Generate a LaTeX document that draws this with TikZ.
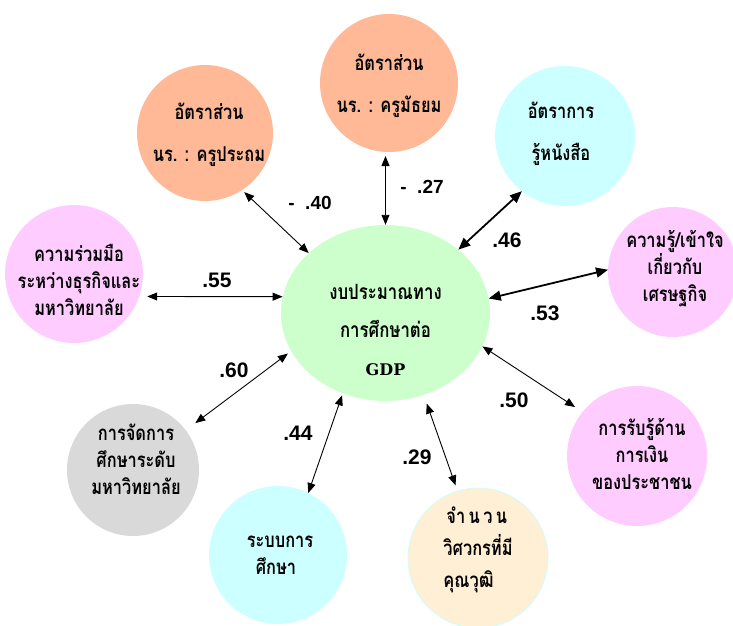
\documentclass[tikz,border=0pt]{standalone}
\usepackage{fontspec}
\usetikzlibrary{arrows.meta,shapes.geometric}
\newfontfamily\thai[Script=Thai,FakeStretch=0.8]{Loma}
\newfontfamily\numfont{Liberation Sans}
\newfontfamily\gdpfont{DejaVu Serif}
\definecolor{salmon}{RGB}{255,185,150}
\definecolor{palecyan}{RGB}{204,255,255}
\definecolor{palepink}{RGB}{255,204,255}
\definecolor{palegray}{RGB}{217,217,217}
\definecolor{palebeige}{RGB}{255,239,212}
\definecolor{palegreen}{RGB}{204,255,204}
\begin{document}
\begin{tikzpicture}[x=1pt,y=-1pt,
  bubble/.style={circle,minimum size=#1,inner sep=0pt,outer sep=0pt},
  txt/.style={font=\thai\bfseries\fontsize{20.5}{27}\selectfont,align=center,inner sep=0pt},
  txtwide/.style={font=\thai\bfseries\fontsize{20.5}{42}\selectfont,align=center,inner sep=0pt},
  ctxt/.style={font=\thai\bfseries\fontsize{21}{38}\selectfont,align=center,inner sep=0pt},
  lab/.style={font=\numfont\bfseries\fontsize{21}{24}\selectfont,inner sep=0pt},
  labsm/.style={font=\numfont\bfseries\fontsize{19}{22}\selectfont,inner sep=0pt},
  dbl/.style={line width=0.9pt,{Triangle[length=10pt,width=8pt]}-{Triangle[length=10pt,width=8pt]}},
  dblthick/.style={line width=1.8pt,{Triangle[length=12pt,width=10pt]}-{Triangle[length=12pt,width=10pt]}}
]
\useasboundingbox (0,0) rectangle (733,625);

% central factor
\node[ellipse,minimum width=209pt,minimum height=176pt,inner sep=0pt,fill=palegreen,
  label={[ctxt,yshift=-17pt]center:งบประมาณทาง\\การศึกษาต่อ\\{\gdpfont\bfseries\fontsize{16}{38}\selectfont GDP}}]
  (c) at (385.5,313) {};

% surrounding factors
\node[bubble=136pt,fill=salmon,label={[txtwide,xshift=4pt,yshift=-2pt]center:อัตราส่วน\\นร. : ครูประถม}] (tl) at (205,133) {};
\node[bubble=138pt,fill=salmon,label={[txtwide,yshift=-3pt]center:อัตราส่วน\\นร. : ครูมัธยม}] (tm) at (389,83) {};
\node[bubble=140pt,fill=palecyan,label={[txtwide,xshift=-4pt,yshift=2pt]center:อัตราการ\\รู้หนังสือ}] (tr) at (565,136) {};
\node[bubble=130pt,fill=palepink,label={[txt,xshift=2pt,yshift=3pt]center:ความรู้/เข้าใจ\\เกี่ยวกับ\\เศรษฐกิจ}] (rt) at (673,272) {};
\node[bubble=138pt,fill=palepink,label={[txt,xshift=5pt,yshift=-6pt]center:ความร่วมมือ\\ระหว่างธุรกิจและ\\มหาวิทยาลัย}] (lf) at (74,274) {};
\node[bubble=132pt,fill=palegray,label={[txt,xshift=3pt,yshift=11pt]center:การจัดการ\\ศึกษาระดับ\\มหาวิทยาลัย}] (gy) at (133,470) {};
\node[bubble=140pt,fill=palepink,label={[txt,xshift=5pt,yshift=2pt]center:การรับรู้ด้าน\\การเงิน\\ของประชาชน}] (rb) at (637,456) {};
\node[bubble=138pt,fill=palecyan,label={[txt,align=left,xshift=2pt]center:ระบบการ\\\hspace*{9pt}ศึกษา}] (bc) at (278,555) {};
\node[bubble=140pt,fill=palebeige,draw=palecyan,line width=0.8pt,label={[txt,align=left,font=\thai\bfseries\fontsize{20.5}{32}\selectfont,yshift=8pt]center:\hspace*{3pt}จำ\,น\,ว\,น\\วิศวกรที่มี\\คุณวุฒิ}] (bg) at (478,558) {};

% correlations
\draw[dbl,shorten <=3pt] (tl.-57.7) -- (c.142);
\draw[dbl,shorten <=4pt] (c.north |- tm.south) -- (c.north);
\draw[dblthick] (tr.232.5) -- (c.41.9);
\draw[dbl,shorten <=8pt] (lf.-19.5) -- (c.171.2);
\draw[dblthick] (rt.178.3) -- (c.8);
\draw[dbl,shorten <=12pt,shorten >=4pt] (gy.37.7) -- (c.202.3);
\draw[dbl,shorten >=2pt] (bc.64.9) -- (c.242.6);
\draw[dbl,shorten <=6pt,shorten >=9pt] (bg.107.5) -- (c.-65.2);
\draw[dbl,shorten <=9pt] (rb.141.7) -- (c.-19.2);

% coefficients
\node[labsm] (k40) at (310,203) {-\ \ .40};
\node[labsm] (k27) at (422,187) {-\ \ .27};
\node[lab] (k46) at (507,240) {.46};
\node[lab] (k55) at (217,280) {.55};
\node[lab] (k53) at (545,313) {.53};
\node[lab] (k60) at (234,370) {.60};
\node[lab] (k44) at (298,433) {.44};
\node[lab] (k29) at (417,457) {.29};
\node[lab] (k50) at (514,400) {.50};
\end{tikzpicture}
\end{document}
